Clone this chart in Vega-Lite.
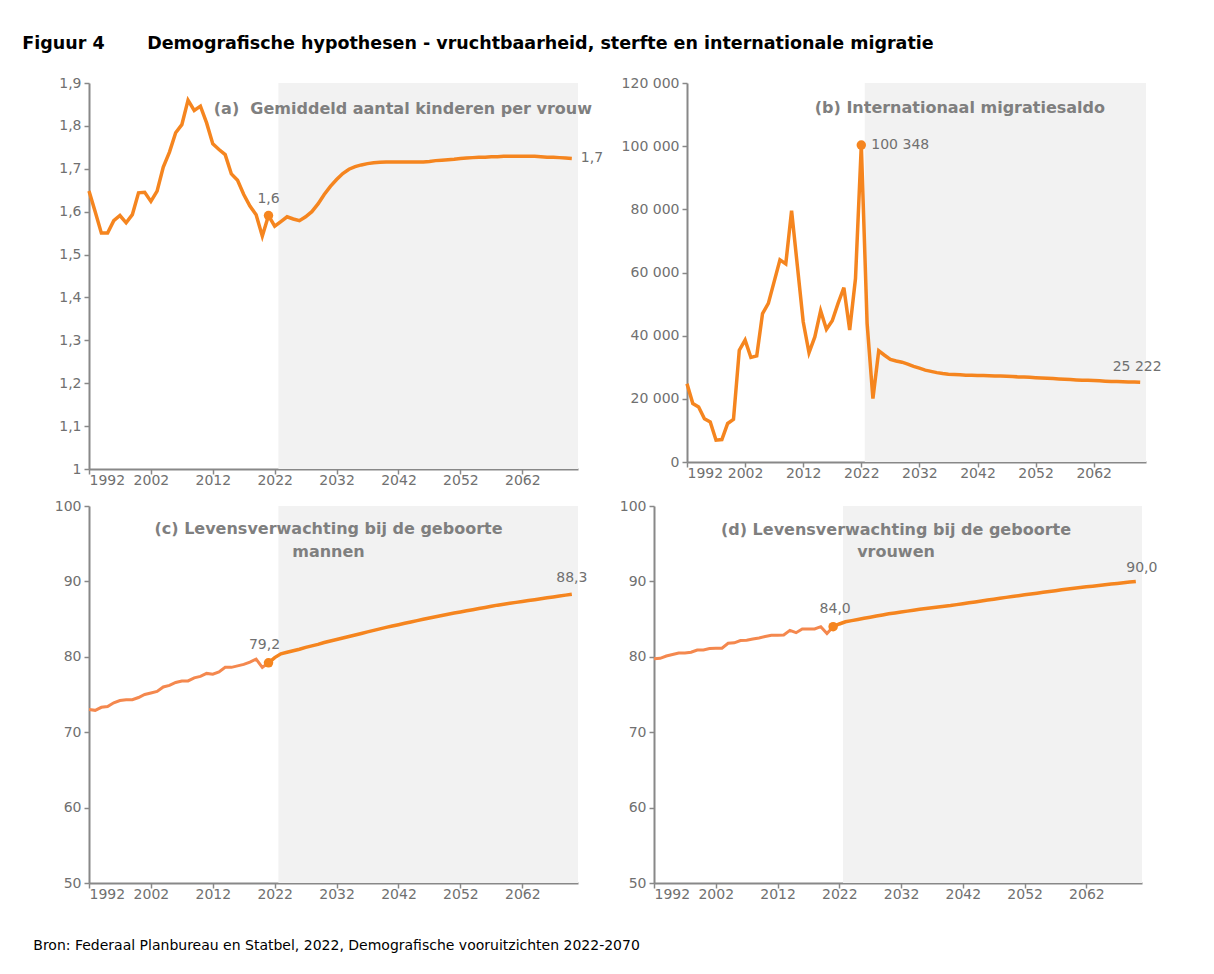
{
  "$schema": "https://vega.github.io/schema/vega-lite/v6.json",
  "padding": {"left": 22, "top": 34, "right": 5, "bottom": 5},
  "background": "white",
  "config": {
    "locale": {"number": {"decimal": ",", "thousands": " ", "grouping": [3], "currency": ["€", ""]}},
    "view": {"stroke": null},
    "axis": {"grid": false, "domainColor": "#888888", "domainWidth": 2, "tickColor": "#888888", "tickWidth": 1.5, "tickSize": 5, "labelColor": "#707070", "labelFont": "DejaVu Sans", "labelFontSize": 14, "title": null, "labelPadding": 3},
    "axisX": {"labelPadding": -1},
    "title": {"font": "DejaVu Sans", "fontWeight": "bold", "color": "#7F7F7F", "fontSize": 16},
    "text": {"font": "DejaVu Sans", "fontSize": 14, "color": "#707070"}
  },
  "title": {"text": "Figuur 4\u00a0\u00a0\u00a0\u00a0\u00a0\u00a0\u00a0Demografische hypothesen - vruchtbaarheid, sterfte en internationale migratie", "anchor": "start", "color": "#000000", "fontSize": 17.5, "fontWeight": "bold", "font": "DejaVu Sans", "offset": 24, "dx": -11},
  "datasets": {
    "proj": [{"start": 2022.6, "end": 2071}],
    "fert": [
      {"year": 1992, "v": 1.648}, {"year": 1993, "v": 1.600}, {"year": 1994, "v": 1.550}, {"year": 1995, "v": 1.550}, {"year": 1996, "v": 1.579},
      {"year": 1997, "v": 1.591}, {"year": 1998, "v": 1.574}, {"year": 1999, "v": 1.593}, {"year": 2000, "v": 1.644}, {"year": 2001, "v": 1.645},
      {"year": 2002, "v": 1.624}, {"year": 2003, "v": 1.648}, {"year": 2004, "v": 1.704}, {"year": 2005, "v": 1.739}, {"year": 2006, "v": 1.784},
      {"year": 2007, "v": 1.803}, {"year": 2008, "v": 1.860}, {"year": 2009, "v": 1.836}, {"year": 2010, "v": 1.846}, {"year": 2011, "v": 1.807},
      {"year": 2012, "v": 1.758}, {"year": 2013, "v": 1.745}, {"year": 2014, "v": 1.733}, {"year": 2015, "v": 1.688}, {"year": 2016, "v": 1.673},
      {"year": 2017, "v": 1.640}, {"year": 2018, "v": 1.613}, {"year": 2019, "v": 1.593}, {"year": 2020, "v": 1.543}, {"year": 2021, "v": 1.591},
      {"year": 2022, "v": 1.566}, {"year": 2023, "v": 1.577}, {"year": 2024, "v": 1.588}, {"year": 2025, "v": 1.583}, {"year": 2026, "v": 1.579},
      {"year": 2027, "v": 1.588}, {"year": 2028, "v": 1.600}, {"year": 2029, "v": 1.618}, {"year": 2030, "v": 1.640}, {"year": 2031, "v": 1.659},
      {"year": 2032, "v": 1.675}, {"year": 2033, "v": 1.689}, {"year": 2034, "v": 1.699}, {"year": 2035, "v": 1.705}, {"year": 2036, "v": 1.709},
      {"year": 2037, "v": 1.712}, {"year": 2038, "v": 1.714}, {"year": 2039, "v": 1.715}, {"year": 2040, "v": 1.716}, {"year": 2041, "v": 1.716},
      {"year": 2042, "v": 1.716}, {"year": 2043, "v": 1.716}, {"year": 2044, "v": 1.716}, {"year": 2045, "v": 1.716}, {"year": 2046, "v": 1.716},
      {"year": 2047, "v": 1.717}, {"year": 2048, "v": 1.719}, {"year": 2049, "v": 1.720}, {"year": 2050, "v": 1.721}, {"year": 2051, "v": 1.722},
      {"year": 2052, "v": 1.724}, {"year": 2053, "v": 1.725}, {"year": 2054, "v": 1.726}, {"year": 2055, "v": 1.727}, {"year": 2056, "v": 1.727},
      {"year": 2057, "v": 1.728}, {"year": 2058, "v": 1.728}, {"year": 2059, "v": 1.729}, {"year": 2060, "v": 1.729}, {"year": 2061, "v": 1.729},
      {"year": 2062, "v": 1.729}, {"year": 2063, "v": 1.729}, {"year": 2064, "v": 1.729}, {"year": 2065, "v": 1.728}, {"year": 2066, "v": 1.727},
      {"year": 2067, "v": 1.727}, {"year": 2068, "v": 1.726}, {"year": 2069, "v": 1.725}, {"year": 2070, "v": 1.724}
    ],
    "migr": [
      {"year": 1992, "v": 24800}, {"year": 1993, "v": 18500}, {"year": 1994, "v": 17400}, {"year": 1995, "v": 13700}, {"year": 1996, "v": 12700},
      {"year": 1997, "v": 6900}, {"year": 1998, "v": 7100}, {"year": 1999, "v": 12200}, {"year": 2000, "v": 13500}, {"year": 2001, "v": 35400},
      {"year": 2002, "v": 38600}, {"year": 2003, "v": 33100}, {"year": 2004, "v": 33600}, {"year": 2005, "v": 47000}, {"year": 2006, "v": 50200},
      {"year": 2007, "v": 57100}, {"year": 2008, "v": 64000}, {"year": 2009, "v": 62700}, {"year": 2010, "v": 79600}, {"year": 2011, "v": 62000},
      {"year": 2012, "v": 44400}, {"year": 2013, "v": 34600}, {"year": 2014, "v": 39600}, {"year": 2015, "v": 47900}, {"year": 2016, "v": 42000},
      {"year": 2017, "v": 44700}, {"year": 2018, "v": 50200}, {"year": 2019, "v": 55200}, {"year": 2020, "v": 41800}, {"year": 2021, "v": 58100},
      {"year": 2022, "v": 100348}, {"year": 2023, "v": 43900}, {"year": 2024, "v": 20100}, {"year": 2025, "v": 35200}, {"year": 2026, "v": 33800},
      {"year": 2027, "v": 32500}, {"year": 2028, "v": 32000}, {"year": 2029, "v": 31600}, {"year": 2030, "v": 31000}, {"year": 2031, "v": 30300},
      {"year": 2032, "v": 29700}, {"year": 2033, "v": 29100}, {"year": 2034, "v": 28700}, {"year": 2035, "v": 28300}, {"year": 2036, "v": 28000},
      {"year": 2037, "v": 27800}, {"year": 2038, "v": 27700}, {"year": 2039, "v": 27600}, {"year": 2040, "v": 27500}, {"year": 2041, "v": 27450},
      {"year": 2042, "v": 27400}, {"year": 2043, "v": 27350}, {"year": 2044, "v": 27300}, {"year": 2045, "v": 27250}, {"year": 2046, "v": 27200},
      {"year": 2047, "v": 27150}, {"year": 2048, "v": 27050}, {"year": 2049, "v": 26950}, {"year": 2050, "v": 26900}, {"year": 2051, "v": 26800},
      {"year": 2052, "v": 26700}, {"year": 2053, "v": 26600}, {"year": 2054, "v": 26500}, {"year": 2055, "v": 26400}, {"year": 2056, "v": 26300},
      {"year": 2057, "v": 26200}, {"year": 2058, "v": 26100}, {"year": 2059, "v": 26000}, {"year": 2060, "v": 25900}, {"year": 2061, "v": 25850},
      {"year": 2062, "v": 25800}, {"year": 2063, "v": 25700}, {"year": 2064, "v": 25600}, {"year": 2065, "v": 25500}, {"year": 2066, "v": 25450},
      {"year": 2067, "v": 25400}, {"year": 2068, "v": 25350}, {"year": 2069, "v": 25300}, {"year": 2070, "v": 25222}
    ],
    "men": [
      {"year": 1992, "v": 73.0}, {"year": 1993, "v": 72.9}, {"year": 1994, "v": 73.3}, {"year": 1995, "v": 73.4}, {"year": 1996, "v": 73.9},
      {"year": 1997, "v": 74.2}, {"year": 1998, "v": 74.3}, {"year": 1999, "v": 74.3}, {"year": 2000, "v": 74.6}, {"year": 2001, "v": 75.0},
      {"year": 2002, "v": 75.2}, {"year": 2003, "v": 75.4}, {"year": 2004, "v": 76.0}, {"year": 2005, "v": 76.2}, {"year": 2006, "v": 76.6},
      {"year": 2007, "v": 76.8}, {"year": 2008, "v": 76.8}, {"year": 2009, "v": 77.2}, {"year": 2010, "v": 77.4}, {"year": 2011, "v": 77.8},
      {"year": 2012, "v": 77.7}, {"year": 2013, "v": 78.0}, {"year": 2014, "v": 78.6}, {"year": 2015, "v": 78.6}, {"year": 2016, "v": 78.8},
      {"year": 2017, "v": 79.0}, {"year": 2018, "v": 79.3}, {"year": 2019, "v": 79.7}, {"year": 2020, "v": 78.6}, {"year": 2021, "v": 79.2},
      {"year": 2022, "v": 79.9}, {"year": 2023, "v": 80.40}, {"year": 2024, "v": 80.60}, {"year": 2025, "v": 80.80}, {"year": 2026, "v": 81.00},
      {"year": 2027, "v": 81.25}, {"year": 2028, "v": 81.45}, {"year": 2029, "v": 81.65}, {"year": 2030, "v": 81.90}, {"year": 2031, "v": 82.10},
      {"year": 2032, "v": 82.30}, {"year": 2033, "v": 82.50}, {"year": 2034, "v": 82.70}, {"year": 2035, "v": 82.90}, {"year": 2036, "v": 83.10},
      {"year": 2037, "v": 83.30}, {"year": 2038, "v": 83.50}, {"year": 2039, "v": 83.70}, {"year": 2040, "v": 83.90}, {"year": 2041, "v": 84.08},
      {"year": 2042, "v": 84.26}, {"year": 2043, "v": 84.44}, {"year": 2044, "v": 84.62}, {"year": 2045, "v": 84.80}, {"year": 2046, "v": 84.97},
      {"year": 2047, "v": 85.14}, {"year": 2048, "v": 85.31}, {"year": 2049, "v": 85.48}, {"year": 2050, "v": 85.65}, {"year": 2051, "v": 85.80},
      {"year": 2052, "v": 85.95}, {"year": 2053, "v": 86.10}, {"year": 2054, "v": 86.25}, {"year": 2055, "v": 86.40}, {"year": 2056, "v": 86.55},
      {"year": 2057, "v": 86.70}, {"year": 2058, "v": 86.85}, {"year": 2059, "v": 86.98}, {"year": 2060, "v": 87.10}, {"year": 2061, "v": 87.22},
      {"year": 2062, "v": 87.34}, {"year": 2063, "v": 87.46}, {"year": 2064, "v": 87.58}, {"year": 2065, "v": 87.70}, {"year": 2066, "v": 87.82},
      {"year": 2067, "v": 87.94}, {"year": 2068, "v": 88.06}, {"year": 2069, "v": 88.18}, {"year": 2070, "v": 88.30}
    ],
    "women": [
      {"year": 1992, "v": 79.75}, {"year": 1993, "v": 79.8}, {"year": 1994, "v": 80.1}, {"year": 1995, "v": 80.3}, {"year": 1996, "v": 80.5},
      {"year": 1997, "v": 80.5}, {"year": 1998, "v": 80.6}, {"year": 1999, "v": 80.9}, {"year": 2000, "v": 80.9}, {"year": 2001, "v": 81.1},
      {"year": 2002, "v": 81.15}, {"year": 2003, "v": 81.15}, {"year": 2004, "v": 81.8}, {"year": 2005, "v": 81.85}, {"year": 2006, "v": 82.15},
      {"year": 2007, "v": 82.2}, {"year": 2008, "v": 82.35}, {"year": 2009, "v": 82.5}, {"year": 2010, "v": 82.7}, {"year": 2011, "v": 82.85},
      {"year": 2012, "v": 82.85}, {"year": 2013, "v": 82.9}, {"year": 2014, "v": 83.5}, {"year": 2015, "v": 83.2}, {"year": 2016, "v": 83.7},
      {"year": 2017, "v": 83.7}, {"year": 2018, "v": 83.7}, {"year": 2019, "v": 84.0}, {"year": 2020, "v": 83.1}, {"year": 2021, "v": 84.0},
      {"year": 2022, "v": 84.35}, {"year": 2023, "v": 84.65}, {"year": 2024, "v": 84.8}, {"year": 2025, "v": 84.95}, {"year": 2026, "v": 85.1},
      {"year": 2027, "v": 85.25}, {"year": 2028, "v": 85.4}, {"year": 2029, "v": 85.55}, {"year": 2030, "v": 85.7}, {"year": 2031, "v": 85.82},
      {"year": 2032, "v": 85.94}, {"year": 2033, "v": 86.06}, {"year": 2034, "v": 86.18}, {"year": 2035, "v": 86.3}, {"year": 2036, "v": 86.4},
      {"year": 2037, "v": 86.5}, {"year": 2038, "v": 86.6}, {"year": 2039, "v": 86.7}, {"year": 2040, "v": 86.8}, {"year": 2041, "v": 86.92},
      {"year": 2042, "v": 87.04}, {"year": 2043, "v": 87.16}, {"year": 2044, "v": 87.28}, {"year": 2045, "v": 87.4}, {"year": 2046, "v": 87.52},
      {"year": 2047, "v": 87.64}, {"year": 2048, "v": 87.76}, {"year": 2049, "v": 87.88}, {"year": 2050, "v": 88.0}, {"year": 2051, "v": 88.11},
      {"year": 2052, "v": 88.22}, {"year": 2053, "v": 88.33}, {"year": 2054, "v": 88.44}, {"year": 2055, "v": 88.55}, {"year": 2056, "v": 88.66},
      {"year": 2057, "v": 88.77}, {"year": 2058, "v": 88.88}, {"year": 2059, "v": 88.99}, {"year": 2060, "v": 89.1}, {"year": 2061, "v": 89.19},
      {"year": 2062, "v": 89.28}, {"year": 2063, "v": 89.37}, {"year": 2064, "v": 89.46}, {"year": 2065, "v": 89.55}, {"year": 2066, "v": 89.64},
      {"year": 2067, "v": 89.73}, {"year": 2068, "v": 89.82}, {"year": 2069, "v": 89.91}, {"year": 2070, "v": 90.0}
    ]
  },
  "spacing": 12,
  "vconcat": [
    {
      "bounds": "flush",
      "spacing": 109,
      "hconcat": [
        {
          "width": 489, "height": 386,
          "title": {"text": "(a)\u00a0 Gemiddeld aantal kinderen per vrouw", "anchor": "end", "frame": "group", "baseline": "top", "offset": 0, "dx": 14, "dy": 41},
          "layer": [
            {"data": {"name": "proj"}, "mark": {"type": "rect", "color": "#F2F2F2"},
             "encoding": {"x": {"field": "start", "type": "quantitative", "scale": {"domain": [1992, 2071], "nice": false, "zero": false},
                                "axis": {"values": [1992, 2002, 2012, 2022, 2032, 2042, 2052, 2062], "format": "d"}},
                          "x2": {"field": "end"}}},
            {"data": {"name": "fert"}, "mark": {"type": "line", "color": "#F5851F", "strokeWidth": 3.5},
             "encoding": {"x": {"field": "year", "type": "quantitative"},
                          "y": {"field": "v", "type": "quantitative", "scale": {"domain": [1, 1.9], "nice": false, "zero": false},
                                "axis": {"values": [1, 1.1, 1.2, 1.3, 1.4, 1.5, 1.6, 1.7, 1.8, 1.9], "format": ".1~f"}}}},
            {"data": {"name": "fert"}, "transform": [{"filter": "datum.year == 2021"}], "mark": {"type": "point", "filled": true, "size": 90, "color": "#F5851F", "opacity": 1},
             "encoding": {"x": {"field": "year", "type": "quantitative"}, "y": {"field": "v", "type": "quantitative"}}},
            {"data": {"name": "fert"}, "transform": [{"filter": "datum.year == 2021"}], "mark": {"type": "text", "dy": -17, "align": "center"},
             "encoding": {"x": {"field": "year", "type": "quantitative"}, "y": {"field": "v", "type": "quantitative"}, "text": {"field": "v", "format": ".1f"}}},
            {"data": {"name": "fert"}, "transform": [{"filter": "datum.year == 2070"}], "mark": {"type": "text", "dx": 9, "align": "left", "baseline": "middle"},
             "encoding": {"x": {"field": "year", "type": "quantitative"}, "y": {"field": "v", "type": "quantitative"}, "text": {"field": "v", "format": ".1f"}}}
          ]
        },
        {
          "width": 459, "height": 379,
          "title": {"text": "(b) Internationaal migratiesaldo", "anchor": "end", "frame": "group", "baseline": "top", "offset": 0, "dx": -41, "dy": 40},
          "layer": [
            {"data": {"name": "proj"}, "mark": {"type": "rect", "color": "#F2F2F2"},
             "encoding": {"x": {"field": "start", "type": "quantitative", "scale": {"domain": [1992, 2071], "nice": false, "zero": false},
                                "axis": {"values": [1992, 2002, 2012, 2022, 2032, 2042, 2052, 2062], "format": "d"}},
                          "x2": {"field": "end"}}},
            {"data": {"name": "migr"}, "mark": {"type": "line", "color": "#F5851F", "strokeWidth": 3.5},
             "encoding": {"x": {"field": "year", "type": "quantitative"},
                          "y": {"field": "v", "type": "quantitative", "scale": {"domain": [0, 120000], "nice": false},
                                "axis": {"values": [0, 20000, 40000, 60000, 80000, 100000, 120000], "format": ",d"}}}},
            {"data": {"name": "migr"}, "transform": [{"filter": "datum.year == 2022"}], "mark": {"type": "point", "filled": true, "size": 90, "color": "#F5851F", "opacity": 1},
             "encoding": {"x": {"field": "year", "type": "quantitative"}, "y": {"field": "v", "type": "quantitative"}}},
            {"data": {"name": "migr"}, "transform": [{"filter": "datum.year == 2022"}], "mark": {"type": "text", "dx": 10, "align": "left", "baseline": "middle"},
             "encoding": {"x": {"field": "year", "type": "quantitative"}, "y": {"field": "v", "type": "quantitative"}, "text": {"field": "v", "format": ",d"}}},
            {"data": {"name": "migr"}, "transform": [{"filter": "datum.year == 2070"}], "mark": {"type": "text", "dy": -15, "dx": -3, "align": "center"},
             "encoding": {"x": {"field": "year", "type": "quantitative"}, "y": {"field": "v", "type": "quantitative"}, "text": {"field": "v", "format": ",d"}}}
          ]
        }
      ]
    },
    {
      "bounds": "flush",
      "spacing": 76,
      "title": {"text": "Bron: Federaal Planbureau en Statbel, 2022, Demografische vooruitzichten 2022-2070", "orient": "bottom", "anchor": "start", "frame": "bounds", "fontSize": 14, "fontWeight": "normal", "color": "#000000", "offset": 38, "dx": -21},
      "hconcat": [
        {
          "width": 489, "height": 377,
          "title": {"text": ["(c) Levensverwachting bij de geboorte", "mannen"], "anchor": "middle", "frame": "group", "baseline": "top", "offset": 0, "dx": -5, "dy": 61, "lineHeight": 23},
          "layer": [
            {"data": {"name": "proj"}, "mark": {"type": "rect", "color": "#F2F2F2"},
             "encoding": {"x": {"field": "start", "type": "quantitative", "scale": {"domain": [1992, 2071], "nice": false, "zero": false},
                                "axis": {"values": [1992, 2002, 2012, 2022, 2032, 2042, 2052, 2062], "format": "d"}},
                          "x2": {"field": "end"}}},
            {"data": {"name": "men"}, "transform": [{"filter": "datum.year <= 2021"}], "mark": {"type": "line", "color": "#F4884E", "strokeWidth": 3},
             "encoding": {"x": {"field": "year", "type": "quantitative"},
                          "y": {"field": "v", "type": "quantitative", "scale": {"domain": [50, 100], "nice": false, "zero": false},
                                "axis": {"values": [50, 60, 70, 80, 90, 100], "format": "d"}}}},
            {"data": {"name": "men"}, "transform": [{"filter": "datum.year >= 2021"}], "mark": {"type": "line", "color": "#F5851F", "strokeWidth": 3.5},
             "encoding": {"x": {"field": "year", "type": "quantitative"}, "y": {"field": "v", "type": "quantitative"}}},
            {"data": {"name": "men"}, "transform": [{"filter": "datum.year == 2021"}], "mark": {"type": "point", "filled": true, "size": 90, "color": "#F5851F", "opacity": 1},
             "encoding": {"x": {"field": "year", "type": "quantitative"}, "y": {"field": "v", "type": "quantitative"}}},
            {"data": {"name": "men"}, "transform": [{"filter": "datum.year == 2021"}], "mark": {"type": "text", "dy": -18, "dx": -4, "align": "center"},
             "encoding": {"x": {"field": "year", "type": "quantitative"}, "y": {"field": "v", "type": "quantitative"}, "text": {"field": "v", "format": ".1f"}}},
            {"data": {"name": "men"}, "transform": [{"filter": "datum.year == 2070"}], "mark": {"type": "text", "dy": -16, "align": "center"},
             "encoding": {"x": {"field": "year", "type": "quantitative"}, "y": {"field": "v", "type": "quantitative"}, "text": {"field": "v", "format": ".1f"}}}
          ]
        },
        {
          "width": 488, "height": 377,
          "title": {"text": ["(d) Levensverwachting bij de geboorte", "vrouwen"], "anchor": "middle", "frame": "group", "baseline": "top", "offset": 0, "dx": -2, "dy": 61, "lineHeight": 22},
          "layer": [
            {"data": {"name": "proj"}, "mark": {"type": "rect", "color": "#F2F2F2"},
             "encoding": {"x": {"field": "start", "type": "quantitative", "scale": {"domain": [1992, 2071], "nice": false, "zero": false},
                                "axis": {"values": [1992, 2002, 2012, 2022, 2032, 2042, 2052, 2062], "format": "d"}},
                          "x2": {"field": "end"}}},
            {"data": {"name": "women"}, "transform": [{"filter": "datum.year <= 2021"}], "mark": {"type": "line", "color": "#F4884E", "strokeWidth": 3},
             "encoding": {"x": {"field": "year", "type": "quantitative"},
                          "y": {"field": "v", "type": "quantitative", "scale": {"domain": [50, 100], "nice": false, "zero": false},
                                "axis": {"values": [50, 60, 70, 80, 90, 100], "format": "d"}}}},
            {"data": {"name": "women"}, "transform": [{"filter": "datum.year >= 2021"}], "mark": {"type": "line", "color": "#F5851F", "strokeWidth": 3.5},
             "encoding": {"x": {"field": "year", "type": "quantitative"}, "y": {"field": "v", "type": "quantitative"}}},
            {"data": {"name": "women"}, "transform": [{"filter": "datum.year == 2021"}], "mark": {"type": "point", "filled": true, "size": 90, "color": "#F5851F", "opacity": 1},
             "encoding": {"x": {"field": "year", "type": "quantitative"}, "y": {"field": "v", "type": "quantitative"}}},
            {"data": {"name": "women"}, "transform": [{"filter": "datum.year == 2021"}], "mark": {"type": "text", "dy": -18, "dx": 2, "align": "center"},
             "encoding": {"x": {"field": "year", "type": "quantitative"}, "y": {"field": "v", "type": "quantitative"}, "text": {"field": "v", "format": ".1f"}}},
            {"data": {"name": "women"}, "transform": [{"filter": "datum.year == 2070"}], "mark": {"type": "text", "dy": -13, "dx": 6, "align": "center"},
             "encoding": {"x": {"field": "year", "type": "quantitative"}, "y": {"field": "v", "type": "quantitative"}, "text": {"field": "v", "format": ".1f"}}}
          ]
        }
      ]
    }
  ]
}
